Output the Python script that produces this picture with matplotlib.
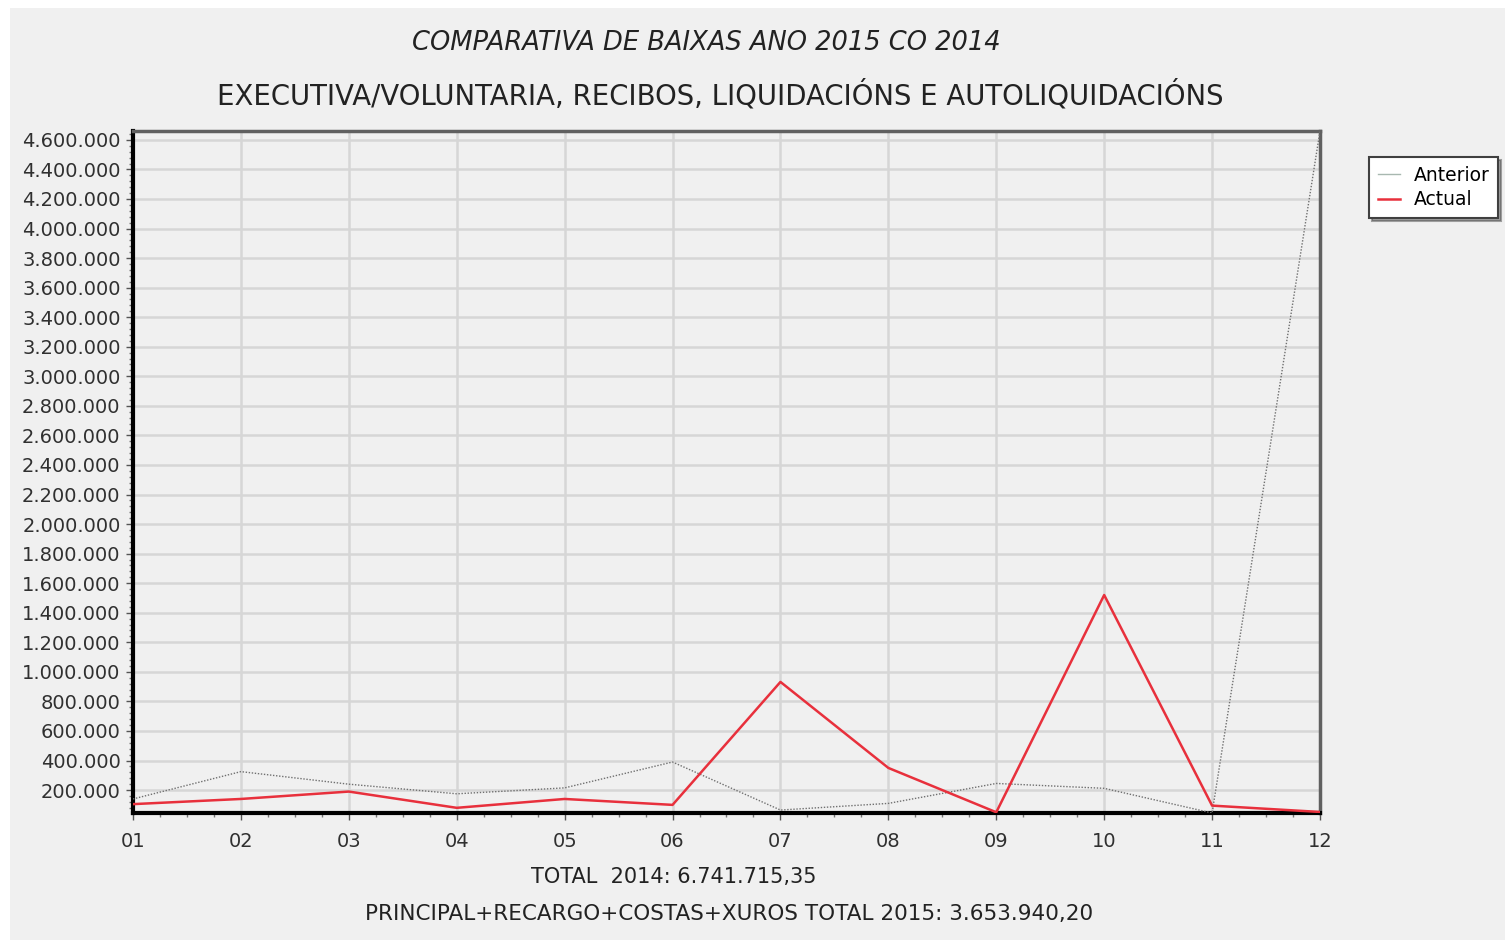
import matplotlib.pyplot as plt
from matplotlib.patches import Rectangle
from matplotlib.ticker import FixedLocator, MultipleLocator, FuncFormatter

# datos mensuais
meses = ['01', '02', '03', '04', '05', '06', '07', '08', '09', '10', '11', '12']
anterior = [140000, 325000, 240000, 175000, 215000, 390000, 65000, 110000, 245000, 212000, 45000, 4660000]
actual = [105000, 140000, 190000, 80000, 140000, 100000, 932000, 350000, 50000, 1520000, 95000, 52000]

titulo1 = 'COMPARATIVA DE BAIXAS ANO 2015 CO 2014'
titulo2 = 'EXECUTIVA/VOLUNTARIA, RECIBOS, LIQUIDACIÓNS E AUTOLIQUIDACIÓNS'
pe1 = 'TOTAL  2014: 6.741.715,35'
pe2 = 'PRINCIPAL+RECARGO+COSTAS+XUROS TOTAL 2015: 3.653.940,20'

bg = '#f0f0f0'
fig = plt.figure(figsize=(15.1, 9.42), dpi=100, facecolor='white')
fig.patches.append(Rectangle((10 / 1510, 2 / 942), 1495 / 1510, 932 / 942,
                             transform=fig.transFigure, facecolor=bg, edgecolor='none', zorder=-10))

ax = fig.add_axes([133 / 1510, 1 - 813 / 942, (1320 - 133) / 1510, (813 - 131) / 942])
ax.set_facecolor(bg)

x = list(range(1, 13))
ax.plot(x, anterior, color='#707070', lw=1.0, ls=(0, (1, 1.2)), label='Anterior', zorder=3)
ax.plot(x, actual, color='#e8303c', lw=1.8, label='Actual', zorder=4)

ymin = min(min(anterior), min(actual))
ymax = max(max(anterior), max(actual))
ax.set_xlim(1, 12)
ax.set_ylim(ymin, ymax)

ax.xaxis.set_major_locator(FixedLocator(x))
ax.set_xticklabels(meses)
ax.xaxis.set_minor_locator(MultipleLocator(0.25))
ax.yaxis.set_major_locator(MultipleLocator(200000))
ax.yaxis.set_minor_locator(MultipleLocator(40000))
ax.yaxis.set_major_formatter(FuncFormatter(lambda v, p: f'{int(v):,}'.replace(',', '.')))

ax.grid(True, which='major', color='#d6d6d6', lw=1.8)
ax.set_axisbelow(True)
ax.tick_params(axis='both', which='major', labelsize=14, colors='#555555', labelcolor='#303030', length=5, width=1)
ax.tick_params(axis='both', which='minor', colors='#777777', length=3, width=1)
ax.tick_params(axis='y', pad=4)
ax.tick_params(axis='x', pad=9)

for s in ['left', 'bottom']:
    ax.spines[s].set_linewidth(3)
    ax.spines[s].set_color('black')
for s in ['top', 'right']:
    ax.spines[s].set_linewidth(2.5)
    ax.spines[s].set_color('#606060')

fig.text(706 / 1510, 1 - 43 / 942, titulo1, ha='center', va='center', fontsize=18.5, style='italic', color='#222222')
fig.text(720 / 1510, 1 - 95 / 942, titulo2, ha='center', va='center', fontsize=19.8, color='#222222')
fig.text(674 / 1510, 1 - 877 / 942, pe1, ha='center', va='center', fontsize=15, color='#222222')
fig.text(729 / 1510, 1 - 914 / 942, pe2, ha='center', va='center', fontsize=15.5, color='#222222')

leg = fig.legend(loc='upper left', bbox_to_anchor=(1360 / 1510, 1 - 148 / 942), fontsize=13.5,
                 frameon=True, fancybox=False, shadow=True, handlelength=1.2, borderpad=0.45,
                 labelspacing=0.3, handletextpad=0.7)
leg.get_frame().set_edgecolor('#404040')
leg.get_frame().set_linewidth(1.5)
leg.get_lines()[0].set_linestyle('-')
leg.get_lines()[0].set_color('#a8b8b0')

fig.savefig('out.png', dpi=100, facecolor=fig.get_facecolor())
